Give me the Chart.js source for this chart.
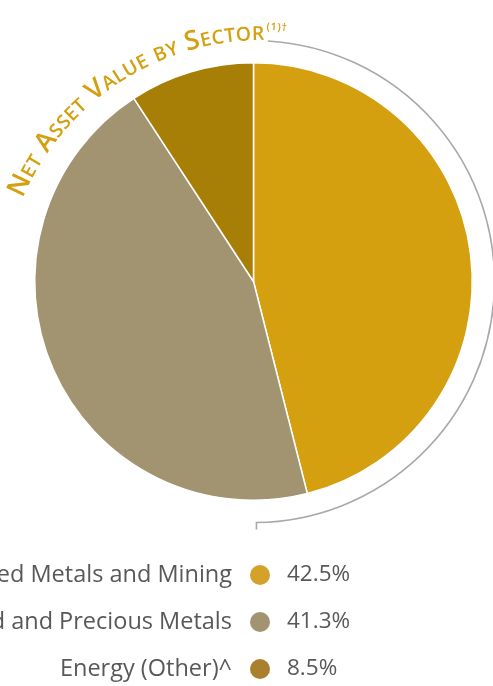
<!DOCTYPE html>
<html>
<head>
<meta charset="utf-8">
<script src="https://cdn.jsdelivr.net/npm/chart.js@4"></script>
<style>
  html, body { margin: 0; padding: 0; background: #fff; overflow: hidden; }
  #graph1 { display: block; }
</style>
</head>
<body>
<canvas id="graph1" width="493" height="686"></canvas>
<script>
// data
var sectors = ["Diversified Metals and Mining", "Gold and Precious Metals", "Energy (Other)^"];
var shares = [42.5, 41.3, 8.5];
var shareLabels = ["42.5%", "41.3%", "8.5%"];
var sliceColors = ['rgb(212, 160, 16)', 'rgb(162, 148, 112)', 'rgb(168, 127, 6)'];
var dotColors = ['rgb(212, 161, 43)', 'rgb(162, 148, 112)', 'rgb(168, 128, 46)'];
var titleText = "Net Asset Value by Sector";
var titleNote = "(1)\u2020";

var decorations = {
	id: 'decorations',
	afterDraw: function(chart) {
		var ctx = chart.ctx;
		var arc = chart.getDatasetMeta(0).data[0];
		var cx = arc.x, cy = arc.y;

		// grey bracket arc on the right
		ctx.save();
		ctx.strokeStyle = '#a9a9ad';
		ctx.lineWidth = 1.6;
		ctx.beginPath();
		ctx.arc(cx, cy, 241, -86.6 * Math.PI / 180, 89.3 * Math.PI / 180);
		ctx.lineTo(cx + 241 * Math.cos(89.3 * Math.PI / 180), cy + 248);
		ctx.stroke();
		ctx.restore();

		// curved small-caps title, sized to fill the arc (its circle sits a bit lower/right)
		var tx = cx + 8.5, ty = cy + 18.5, R = 260;
		var startA = -67 * Math.PI / 180, endA = 0.5 * Math.PI / 180;
		var target = (endA - startA) * R;
		var gap = 0.4;
		var measure = function(size) {
			var out = [];
			for (var i = 0; i < titleText.length; i++) {
				var c = titleText[i];
				var isBig = (c === ' ' || c === c.toUpperCase());
				var f = '600 ' + (isBig ? size : size * 0.72).toFixed(2) + 'px "Open Sans"';
				ctx.font = f;
				out.push({ t: c.toUpperCase(), f: f, w: ctx.measureText(c.toUpperCase()).width });
			}
			return out;
		};
		var g0 = measure(20);
		var w0 = g0.reduce(function(s, g) { return s + g.w; }, 0);
		var size = 20 * (target - gap * (g0.length - 1)) / w0;
		var glyphs = measure(size);
		ctx.save();
		ctx.fillStyle = 'rgb(212, 160, 16)';
		ctx.textAlign = 'center';
		ctx.textBaseline = 'alphabetic';
		var a = startA;
		glyphs.forEach(function(g) {
			ctx.save();
			ctx.translate(tx, ty);
			ctx.rotate(a + (g.w / 2) / R);
			ctx.font = g.f;
			ctx.fillText(g.t, 0, -R);
			ctx.restore();
			a += (g.w + gap) / R;
		});
		// superscript note
		ctx.font = '600 10.5px "Open Sans"';
		var a2 = endA + 2 / R;
		for (var j = 0; j < titleNote.length; j++) {
			var w = ctx.measureText(titleNote[j]).width;
			ctx.save();
			ctx.translate(tx, ty);
			ctx.rotate(a2 + (w / 2) / R);
			ctx.fillText(titleNote[j], 0, -R - 10);
			ctx.restore();
			a2 += (w + 0.5) / R;
		}
		ctx.restore();

		// legend rows
		ctx.save();
		ctx.textBaseline = 'middle';
		for (var k = 0; k < sectors.length; k++) {
			var y = 575 + k * 47;
			ctx.fillStyle = '#58585a';
			ctx.textAlign = 'right';
			ctx.font = '23.5px "Open Sans"';
			ctx.fillText(sectors[k], 232, y);
			ctx.textAlign = 'left';
			ctx.font = '22.5px "Open Sans"';
			ctx.fillText(shareLabels[k], 287, y);
			ctx.fillStyle = dotColors[k];
			ctx.beginPath();
			ctx.arc(260, y, 10, 0, Math.PI * 2);
			ctx.fill();
		}
		ctx.restore();
	}
};

function exec1()
{
	var ctx = document.getElementById('graph1').getContext('2d');
	var chart = new Chart(ctx, {
		type: 'pie',
		data: {
			labels: sectors,
			datasets: [{
				data: shares,
				backgroundColor: sliceColors,
				borderColor: '#ffffff',
				borderWidth: 1.5
			}]
		},
		options: {
			responsive: false,
			animation: false,
			layout: { padding: { left: 34, right: 20, top: 62, bottom: 185 } },
			plugins: {
				legend: { display: false },
				tooltip: { enabled: false }
			}
		},
		plugins: [decorations]
	});
}

exec1();
</script>
</body>
</html>
